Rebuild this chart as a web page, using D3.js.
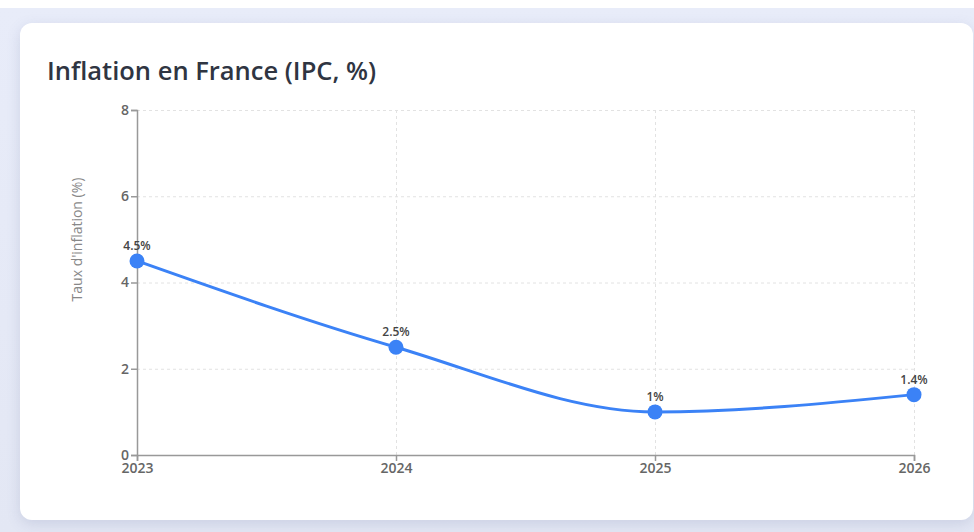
<!DOCTYPE html>
<html>
<head>
<meta charset="utf-8">
<script src="https://cdn.jsdelivr.net/npm/d3@7"></script>
<style>
  body { margin: 0; background: #fff; font-family: "Open Sans", "Noto Sans", sans-serif; }
  #bg {
    position: absolute; left: 0; top: 8px; width: 974px; height: 524px;
    background: linear-gradient(180deg, #e8ecf9 0%, #e3e7f4 100%);
  }
  #card {
    position: absolute; left: 20px; top: 23px; width: 953px; height: 497px;
    background: #fff; border-radius: 12px;
    box-shadow: 0 4px 14px rgba(90, 100, 150, 0.18);
  }
  .grid line { stroke: #e2e2e2; stroke-dasharray: 3,3; }
  .grid path { display: none; }
  .axis path, .axis line { stroke: #999; stroke-width: 1.5; }
  .axis text { fill: #666; font-size: 14px; font-weight: 600; font-family: "Open Sans", sans-serif; }
</style>
</head>
<body>
<div id="bg"></div>
<div id="card"></div>
<script>
// data
var years = ["2023", "2024", "2025", "2026"];
var inflation = [4.5, 2.5, 1.0, 1.4];
var labels = ["4.5%", "2.5%", "1%", "1.4%"];
var yTicks = [0, 2, 4, 6, 8];

var margin = {top: 87, right: 59, bottom: 65, left: 117},
    width = 777,
    height = 345;

var svg = d3.select("#card").append("svg")
    .attr("width", width + margin.left + margin.right)
    .attr("height", height + margin.top + margin.bottom)
    .style("position", "absolute").style("left", 0).style("top", 0);

// title
svg.append("text")
    .attr("x", 27).attr("y", 57)
    .style("font-size", "25.5px")
    .style("font-weight", 600)
    .style("fill", "#2f3542")
    .text("Inflation en France (IPC, %)");

var g = svg.append("g")
    .attr("transform", "translate(" + margin.left + "," + margin.top + ")");

var x = d3.scalePoint().domain(years).range([0, width]).padding(0);
var y = d3.scaleLinear().domain([0, 8]).range([height, 0]);

// gridlines
g.append("g").attr("class", "grid")
    .call(d3.axisLeft(y).tickValues(yTicks).tickSize(-width).tickFormat(""));
g.append("g").attr("class", "grid")
    .attr("transform", "translate(0," + height + ")")
    .call(d3.axisBottom(x).tickSize(-height).tickFormat(""));

// axes
g.append("g").attr("class", "axis")
    .attr("transform", "translate(0," + height + ")")
    .call(d3.axisBottom(x).tickPadding(2));
g.append("g").attr("class", "axis")
    .call(d3.axisLeft(y).tickValues(yTicks).tickPadding(2));

// y label
g.append("text")
    .attr("transform", "rotate(-90)")
    .attr("x", -(height / 2) + 43)
    .attr("y", -55)
    .style("text-anchor", "middle")
    .style("font-size", "14px")
    .style("fill", "#888")
    .text("Taux d'inflation (%)");

var pts = years.map(function(d, i) { return {year: d, value: inflation[i], label: labels[i]}; });

var line = d3.line()
    .x(function(d) { return x(d.year); })
    .y(function(d) { return y(d.value); })
    .curve(d3.curveMonotoneX);

g.append("path")
    .datum(pts)
    .attr("d", line)
    .attr("fill", "none")
    .attr("stroke", "#3b82f6")
    .attr("stroke-width", 3);

g.selectAll(".dot")
    .data(pts)
    .enter().append("circle")
    .attr("cx", function(d) { return x(d.year); })
    .attr("cy", function(d) { return y(d.value); })
    .attr("r", 7.5)
    .style("fill", "#3b82f6");

g.selectAll(".lbl")
    .data(pts)
    .enter().append("text")
    .attr("x", function(d) { return x(d.year); })
    .attr("y", function(d) { return y(d.value) - 11; })
    .style("text-anchor", "middle")
    .style("font-size", "12px")
    .style("font-weight", 600)
    .style("fill", "#444")
    .text(function(d) { return d.label; });
</script>
</body>
</html>
